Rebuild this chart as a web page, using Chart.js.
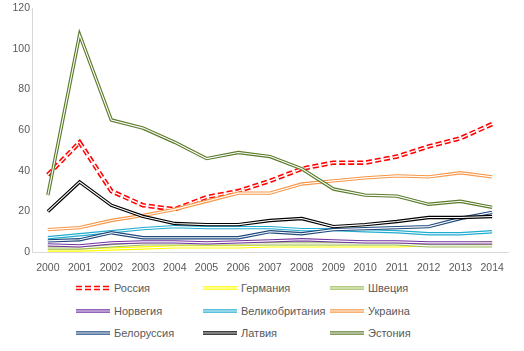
<!DOCTYPE html>
<html>
<head>
<meta charset="utf-8">
<script src="https://cdn.jsdelivr.net/npm/chart.js@4/dist/chart.umd.min.js"></script>
<style>
  html, body { margin: 0; padding: 0; background: #fff; }
  #wrap { position: relative; width: 524px; height: 351px; overflow: hidden; }
  #chart { position: absolute; left: 0; top: 0; }
  .lg { position: absolute; height: 16px; display: flex; align-items: center;
        font: 11px "Liberation Sans", Arial, sans-serif; color: #595959; white-space: nowrap; }
  .lg svg { margin-right: 4px; }
</style>
</head>
<body>
<div id="wrap">
  <canvas id="chart" width="524" height="280"></canvas>
  <div id="legend"></div>
</div>
<script>
const years = ["2000", "2001", "2002", "2003", "2004", "2005", "2006", "2007",
               "2008", "2009", "2010", "2011", "2012", "2013", "2014"];

const countries = ["Россия", "Германия", "Швеция", "Норвегия", "Великобритания",
                   "Украина", "Белоруссия", "Латвия", "Эстония"];

const russia    = [38, 54, 30, 23, 21, 27, 30, 35, 41, 44, 44, 47, 52, 56, 63];
const germany   = [1, 1, 1.5, 2, 2.5, 2.5, 2.5, 3, 3, 3, 3, 3, 3.5, 4, 4.5];
const sweden    = [2, 2, 3, 4, 4, 4, 4, 4, 4, 4, 4, 4, 3, 3, 3];
const norway    = [3.5, 3, 4.5, 5, 5, 4.5, 5, 5.5, 6, 5.5, 5, 5, 4.5, 4.5, 4.5];
const uk        = [7, 8.5, 10, 11.5, 12.5, 12, 12, 12, 11, 11, 10.5, 10, 9, 9, 10];
const ukraine   = [11, 12, 15.5, 18, 21, 25, 29, 29, 33.5, 35, 36.5, 37.5, 37, 39, 37];
const belarus   = [5.5, 6, 9.5, 7, 7, 7, 7, 10, 9, 11, 11.5, 12, 12.5, 16.5, 19.5];
const latvia    = [20, 34.5, 23, 17.5, 14, 13.5, 13.5, 15.5, 16.5, 12.5, 13.5, 15, 17, 17, 17.5];
const estonia   = [28, 107, 65, 61, 54, 46, 49, 47, 41, 31, 28, 27.5, 23.5, 25, 22];

const yTicks = [0, 20, 40, 60, 80, 100, 120];

const series = [russia, germany, sweden, norway, uk, ukraine, belarus, latvia, estonia];
const colors = ["#ff0000", "#ffff00", "#9bbb59", "#7030a0", "#21acd0",
                "#f79646", "#1f497d", "#000000", "#5b7b2a"];

const font = { family: '"Liberation Sans", Arial, sans-serif', size: 10.5 };

// Excel-style "double" lines: thick coloured stroke, thin white stroke on top
const doubleLine = {
    id: "doubleLine",
    afterDatasetDraw(chart, args) {
        const ds = chart.data.datasets[args.index];
        const pts = args.meta.data;
        const ctx = chart.ctx;
        ctx.save();
        ctx.beginPath();
        pts.forEach((p, i) => (i ? ctx.lineTo(p.x, p.y) : ctx.moveTo(p.x, p.y)));
        ctx.strokeStyle = "#fff";
        ctx.lineWidth = ds.borderDash ? 1.4 : 1.1;
        ctx.setLineDash(ds.borderDash || []);
        ctx.stroke();
        ctx.restore();
    },
};

const chart = new Chart(document.getElementById("chart"), {
    type: "line",
    data: {
        labels: years,
        datasets: countries.map((name, i) => ({
            label: name,
            data: series[i],
            borderColor: colors[i],
            backgroundColor: colors[i],
            borderWidth: i === 0 ? 4.5 : 3.4,
            borderDash: i === 0 ? [6, 3] : undefined,
            pointRadius: 0,
            tension: 0,
            order: countries.length - i,
        })),
    },
    options: {
        responsive: false,
        animation: false,
        events: [],
        layout: { padding: { top: 0, right: 16, left: 0, bottom: 0 } },
        plugins: { legend: { display: false }, tooltip: { enabled: false } },
        scales: {
            x: {
                offset: true,
                grid: { display: false, drawTicks: false },
                border: { display: true, color: "#d9d9d9" },
                ticks: { color: "#595959", font: font, padding: 10, maxRotation: 0, autoSkip: false },
                afterFit: (s) => { s.height = 28; },
            },
            y: {
                min: 0,
                max: 120,
                afterBuildTicks: (s) => { s.ticks = yTicks.map((v) => ({ value: v })); },
                grid: { display: false, drawTicks: false },
                border: { display: true, color: "#d9d9d9" },
                ticks: { color: "#595959", font: font, padding: 2 },
                afterFit: (s) => { s.width = 32; },
            },
        },
    },
    plugins: [doubleLine],
});

// legend laid out in a 3 x 3 grid like the original
const colLeft = [76, 203, 330];
const rowTop = [280, 303, 325];
const legend = document.getElementById("legend");
chart.data.datasets.forEach((ds, i) => {
    const item = document.createElement("div");
    item.className = "lg";
    item.style.left = colLeft[i % 3] + "px";
    item.style.top = rowTop[Math.floor(i / 3)] + "px";
    const dash = ds.borderDash ? ' stroke-dasharray="6 3"' : "";
    const inner = ds.borderDash ? 1.4 : 1.1;
    item.innerHTML =
        '<svg width="34" height="8">' +
        '<line x1="0" y1="4" x2="34" y2="4" stroke="' + ds.borderColor + '" stroke-width="' + ds.borderWidth + '"' + dash + "/>" +
        '<line x1="0" y1="4" x2="34" y2="4" stroke="#fff" stroke-width="' + inner + '"' + dash + "/>" +
        "</svg><span>" + ds.label + "</span>";
    legend.appendChild(item);
});
</script>
</body>
</html>
